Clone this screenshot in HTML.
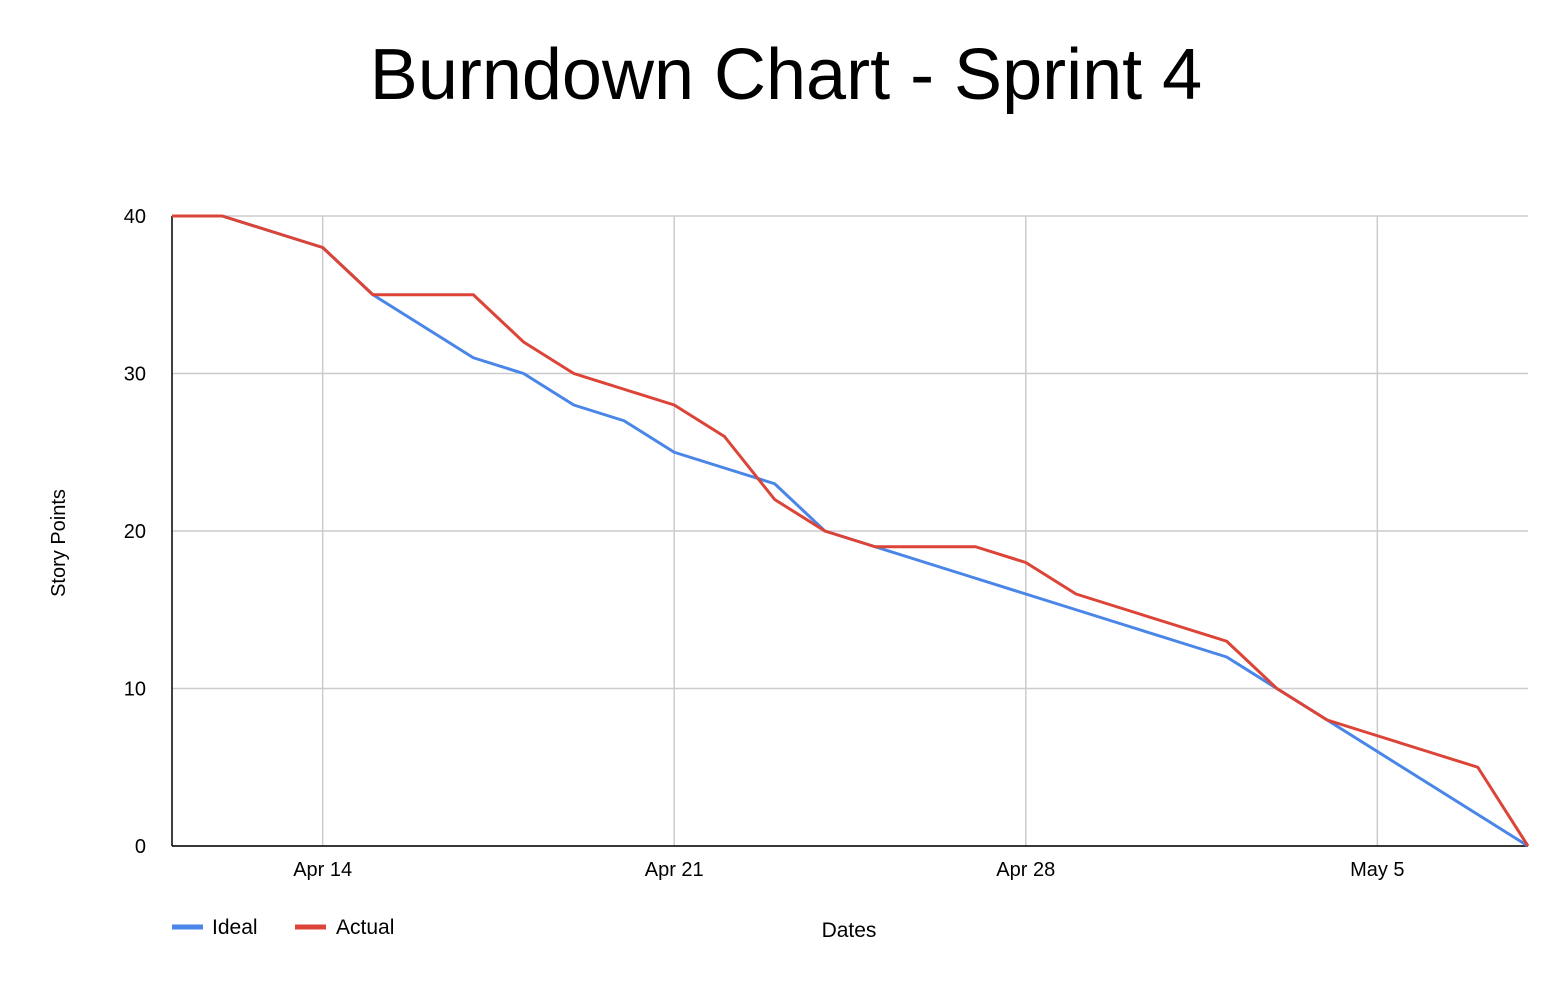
<!DOCTYPE html>
<html><head><meta charset="utf-8"><style>
body{margin:0;background:#fff;}
svg{display:block;font-family:"Liberation Sans",Arial,sans-serif;}
</style></head><body>
<svg id="chart" width="1568" height="986">
<text x="786" y="99" font-size="72" text-anchor="middle" fill="#000">Burndown Chart - Sprint 4</text>
<g id="grid"></g>
<g id="axes"></g>
<g id="series"></g>
<text transform="translate(65,543) rotate(-90)" font-size="20" text-anchor="middle">Story Points</text>
<text x="849" y="937" font-size="21" text-anchor="middle">Dates</text>
<g>
<line x1="172" y1="927" x2="203" y2="927" stroke="#4a86e8" stroke-width="5"/>
<text x="212" y="934" font-size="21">Ideal</text></g>
<g>
<line x1="295" y1="927" x2="326" y2="927" stroke="#db4437" stroke-width="5"/>
<text x="336" y="934" font-size="21">Actual</text></g>
</svg>
<script>
const dayCount = 27; // Apr 11 .. May 8
const ideal = [40,40,39,38,35,33,31,30,28,27,25,24,23,20,19,18,17,16,15,14,13,12,10,8,6,4,2,0];
const actual = [40,40,39,38,35,35,35,32,30,29,28,26,22,20,19,19,19,18,16,15,14,13,10,8,7,6,5,0];
const yTicks = [0,10,20,30,40];
const xTickLabels = ["Apr 14","Apr 21","Apr 28","May 5"];
const xTickDays = [3,10,17,24];
const L=172,R=1528,T=216,B=846;
const sx=d=>L+(R-L)*d/dayCount;
const sy=v=>B-(B-T)*v/40;
const ns="http://www.w3.org/2000/svg";
function mk(tag,attrs,parent){const e=document.createElementNS(ns,tag);for(const k in attrs)e.setAttribute(k,attrs[k]);parent.appendChild(e);return e;}
const grid=document.getElementById('grid'),axes=document.getElementById('axes'),series=document.getElementById('series');
yTicks.forEach(v=>{
  const g=mk('line',{x1:L,x2:R,y1:sy(v),y2:sy(v),stroke:'#cccccc','stroke-width':1.5},grid);
  
  
  const t=mk('text',{x:146,y:sy(v)+7,'font-size':20,'text-anchor':'end'},axes);
  t.textContent=v;
  
  
});
xTickDays.forEach((d,i)=>{
  const g=mk('line',{x1:sx(d),x2:sx(d),y1:T,y2:B,stroke:'#cccccc','stroke-width':1.5},grid);
  
  
  const t=mk('text',{x:sx(d),y:876,'font-size':20,'text-anchor':'middle'},axes);
  t.textContent=xTickLabels[i];
  
  
});
const ya=mk('line',{x1:L,x2:L,y1:T,y2:B,stroke:'#000','stroke-width':1.5},axes);


const xa=mk('line',{x1:L,x2:R,y1:B,y2:B,stroke:'#000','stroke-width':1.5},axes);


function line(vals,color,name){
  const p=mk('polyline',{points:vals.map((v,i)=>sx(i)+','+sy(v)).join(' '),fill:'none',stroke:color,'stroke-width':3,'stroke-linejoin':'round'},series);
  
  
}
line(ideal,'#4a86e8','ideal-line');
line(actual,'#db4437','actual-line');
</script>
</body></html>
